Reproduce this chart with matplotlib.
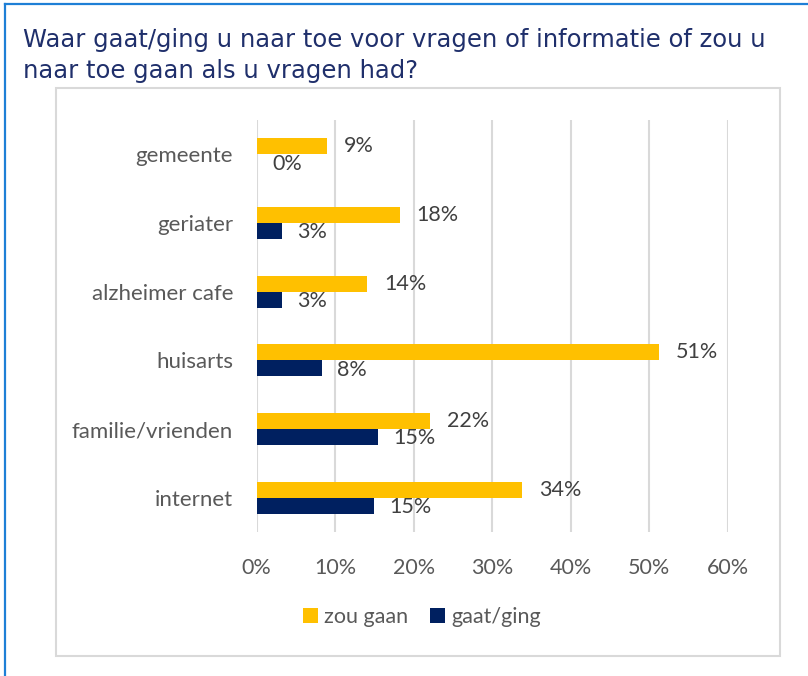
import numpy as np
import matplotlib
matplotlib.use("Agg")
import matplotlib.pyplot as plt
from matplotlib.patches import Rectangle
from matplotlib.lines import Line2D

# data
categories = ["gemeente", "geriater", "alzheimer cafe", "huisarts", "familie/vrienden", "internet"]
zou_gaan = [9.0, 18.2, 14.1, 51.2, 22.1, 33.8]
gaat_ging = [0.0, 3.2, 3.2, 8.3, 15.4, 15.0]
xticks = [0, 10, 20, 30, 40, 50, 60]

geel = "#FFC000"
navy = "#002060"
grijs = "#595959"

W, H = 808, 676
fig = plt.figure(figsize=(W / 100, H / 100), dpi=100)

# blauwe rand links en boven
fig.add_artist(Line2D([4.5 / W, 4.5 / W], [0, 1 - 4 / H], color="#1E7FD6", lw=1.6, transform=fig.transFigure))
fig.add_artist(Line2D([4.5 / W, 1], [1 - 4 / H, 1 - 4 / H], color="#1E7FD6", lw=1.6, transform=fig.transFigure))

# grijze kader om de grafiek
fig.add_artist(Rectangle((56 / W, 1 - 656 / H), (780 - 56) / W, (656 - 88) / H, transform=fig.transFigure,
                         fill=False, edgecolor="#D9D9D9", lw=1.5))

fig.text(23 / W, 1 - 40 / H, "Waar gaat/ging u naar toe voor vragen of informatie of zou u",
         fontsize=17.5, color="#1F2F6B", family="DejaVu Sans", va="center", ha="left")
fig.text(23 / W, 1 - 71 / H, "naar toe gaan als u vragen had?",
         fontsize=17.5, color="#1F2F6B", family="DejaVu Sans", va="center", ha="left")

ax = fig.add_axes([256.7 / W, 1 - 532 / H, (727.7 - 256.7) / W, (532 - 120) / H])

y = np.arange(len(categories))
h = 0.235
ax.barh(y - h / 2, zou_gaan, height=h, color=geel, label="zou gaan")
ax.barh(y + h / 2, gaat_ging, height=h, color=navy, label="gaat/ging")

for i in range(len(categories)):
    ax.annotate("%.0f%%" % zou_gaan[i], (zou_gaan[i], y[i] - h / 2), xytext=(12, 0),
                textcoords="offset points", va="center", ha="left", fontsize=15.5, color="#404040", family="Lato")
    ax.annotate("%.0f%%" % gaat_ging[i], (gaat_ging[i], y[i] + h / 2 + 0.02), xytext=(11, 0),
                textcoords="offset points", va="center", ha="left", fontsize=15.5, color="#404040", family="Lato")

ax.set_xlim(0, 60)
ax.set_ylim(len(categories) - 0.5, -0.5)
ax.set_xticks(xticks)
ax.set_xticklabels(["%d%%" % t for t in xticks])
ax.set_yticks(y)
ax.set_yticklabels(categories)
for lab in ax.get_xticklabels():
    lab.set_family("Lato")
    lab.set_fontsize(15.5)
    lab.set_color(grijs)
for lab in ax.get_yticklabels():
    lab.set_family("Lato")
    lab.set_fontsize(16)
    lab.set_color(grijs)
ax.tick_params(axis="both", length=0)
ax.tick_params(axis="x", pad=19)
ax.tick_params(axis="y", pad=17)
ax.grid(axis="x", color="#D9D9D9", lw=1.5)
ax.set_axisbelow(True)
for s in ax.spines.values():
    s.set_visible(False)

leg = fig.legend(loc="center", bbox_to_anchor=(422 / W, 1 - 617 / H), ncol=2, frameon=False,
                 prop={"family": "Lato", "size": 15.5}, handlelength=0.7, handleheight=0.7,
                 handletextpad=0.3, columnspacing=1.0)
for t in leg.get_texts():
    t.set_color(grijs)

fig.savefig("out.png", dpi=100)
